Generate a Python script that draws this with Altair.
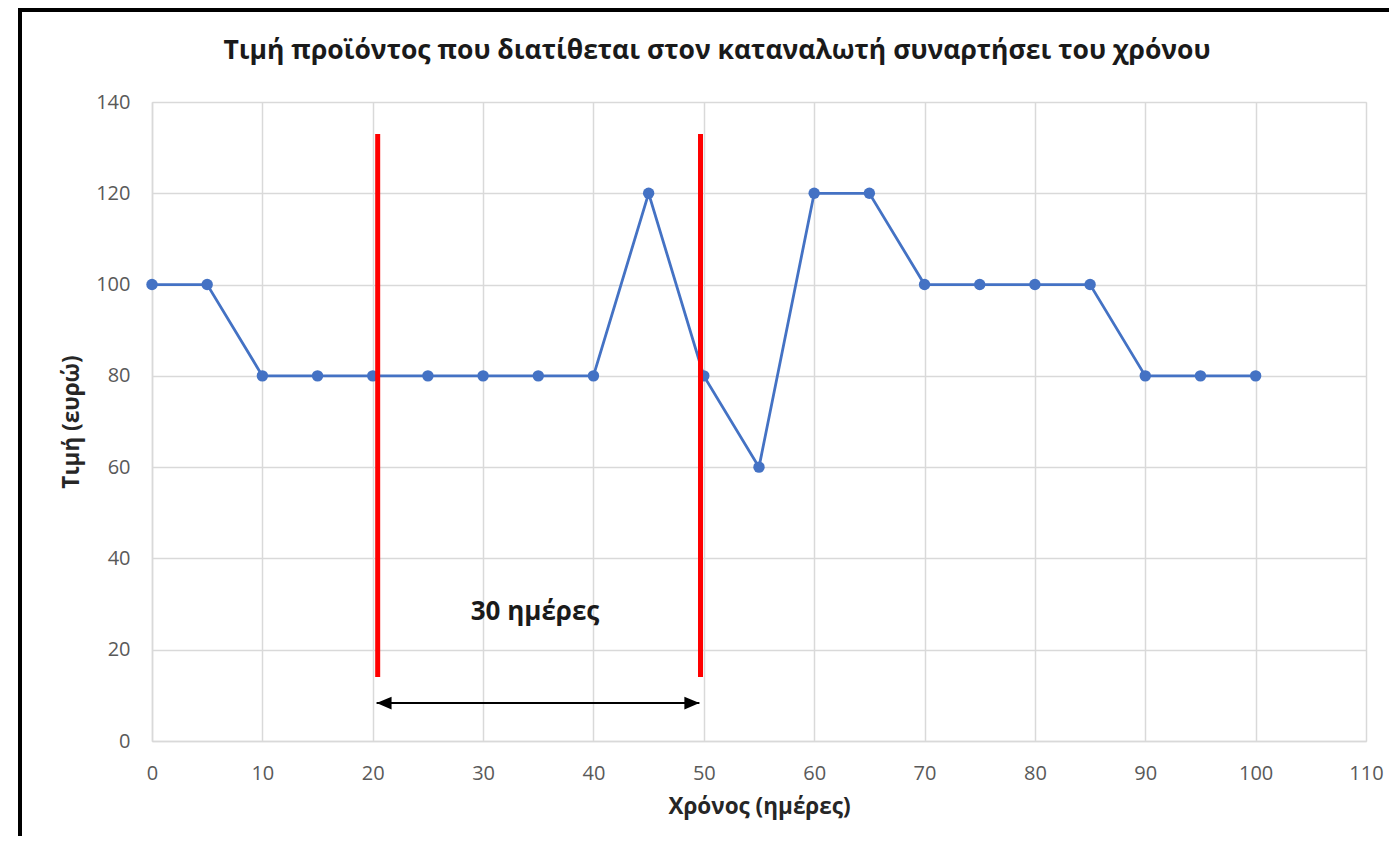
import altair as alt
import pandas as pd

# ---- data ----
days = [0, 5, 10, 15, 20, 25, 30, 35, 40, 45, 50, 55, 60, 65, 70, 75, 80, 85, 90, 95, 100]
price = [100, 100, 80, 80, 80, 80, 80, 80, 80, 120, 80, 60, 120, 120, 100, 100, 100, 100, 80, 80, 80]

marker_x = [20.45, 49.7]          # red vertical markers
marker_y_low = [14, 14]
marker_y_high = [133, 133]

arrow_start = [20.35]
arrow_end = [49.6]
arrow_level = [8.3]

label_text = ["30 ημέρες"]
label_x = [34.7]
label_y = [28.3]

x_ticks = list(range(0, 111, 10))
y_ticks = list(range(0, 141, 20))

title_text = ["Τιμή προϊόντος που διατίθεται στον καταναλωτή συναρτήσει του χρόνου"]
x_title = "Χρόνος (ημέρες)"
y_title = "Τιμή (ευρώ)"

FONT = "Open Sans"
BLUE = "#4472C4"

series = pd.DataFrame({"day": days, "price": price})
markers = pd.DataFrame({"x": marker_x, "y": marker_y_low, "y2": marker_y_high})
arrow = pd.DataFrame({"x": arrow_start, "x2": arrow_end, "y": arrow_level})
heads = pd.DataFrame({"x": arrow_start + arrow_end, "y": arrow_level * 2,
                      "side": ["left", "right"]})
label = pd.DataFrame({"x": label_x, "y": label_y, "t": label_text})
title_df = pd.DataFrame({"t": title_text})

xscale = alt.Scale(domain=[0, 110], nice=False, zero=False)
yscale = alt.Scale(domain=[0, 140], nice=False)

xaxis = alt.Axis(values=x_ticks, title=x_title, labelFontSize=20, labelColor="#595959",
                 labelFont=FONT, labelPadding=22, ticks=False, domainColor="#D9D9D9",
                 domainWidth=1.5, gridColor="#D9D9D9", gridWidth=1.5, titleFont=FONT,
                 titleFontSize=22.5, titleFontWeight="bold", titleColor="#262626",
                 titlePadding=12, labelFlush=False)
yaxis = alt.Axis(values=y_ticks, title=y_title, labelFontSize=20, labelColor="#595959",
                 labelFont=FONT, labelPadding=22, ticks=False, domainColor="#D9D9D9",
                 domainWidth=1.5, gridColor="#D9D9D9", gridWidth=1.5, titleFont=FONT,
                 titleFontSize=22.5, titleFontWeight="bold", titleColor="#262626",
                 titlePadding=12, labelFlush=False)

line = alt.Chart(series).mark_line(color=BLUE, strokeWidth=2.8).encode(
    x=alt.X("day:Q", scale=xscale, axis=xaxis),
    y=alt.Y("price:Q", scale=yscale, axis=yaxis),
)
pts = alt.Chart(series).mark_circle(color=BLUE, size=130, opacity=1).encode(
    x=alt.X("day:Q", scale=xscale),
    y=alt.Y("price:Q", scale=yscale),
)
red = alt.Chart(markers).mark_rule(color="#FF0000", strokeWidth=5).encode(
    x=alt.X("x:Q", scale=xscale),
    y=alt.Y("y:Q", scale=yscale),
    y2="y2:Q",
)
arr = alt.Chart(arrow).mark_rule(color="#000000", strokeWidth=2).encode(
    x=alt.X("x:Q", scale=xscale),
    x2="x2:Q",
    y=alt.Y("y:Q", scale=yscale),
)
left_head = alt.Chart(heads).transform_filter(alt.datum.side == "left").mark_point(
    shape="M0,0L2,-0.85L2,0.85Z", filled=True, color="#000000", opacity=1, size=225
).encode(x=alt.X("x:Q", scale=xscale), y=alt.Y("y:Q", scale=yscale))
right_head = alt.Chart(heads).transform_filter(alt.datum.side == "right").mark_point(
    shape="M0,0L-2,-0.85L-2,0.85Z", filled=True, color="#000000", opacity=1, size=225
).encode(x=alt.X("x:Q", scale=xscale), y=alt.Y("y:Q", scale=yscale))
txt = alt.Chart(label).mark_text(font=FONT, fontSize=26, fontWeight="bold",
                                 color="#1a1a1a", baseline="middle", align="center").encode(
    x=alt.X("x:Q", scale=xscale), y=alt.Y("y:Q", scale=yscale), text="t:N")

# chart title (drawn as text so the frame decoration does not push it away)
title = alt.Chart(title_df).mark_text(font=FONT, fontSize=26.5, fontWeight="bold",
                                      color="#1a1a1a", baseline="alphabetic", align="center").encode(
    x=alt.value(565), y=alt.value(-43), text="t:N")

# outer frame of the picture (decoration)
frame_left = alt.Chart(series).mark_rule(color="#000000", strokeWidth=4).encode(
    x=alt.value(-132), y=alt.value(-94), y2=alt.value(760))
frame_top = alt.Chart(series).mark_rule(color="#000000", strokeWidth=4).encode(
    x=alt.value(-134), x2=alt.value(1260), y=alt.value(-92))

chart = alt.layer(line, pts, red, arr, left_head, right_head, txt, title,
                  frame_left, frame_top).properties(
    width=1214, height=639,
    autosize=alt.AutoSizeParams(type="none"),
    padding={"left": 144, "top": 94, "right": 23, "bottom": 95},
).configure_view(stroke=None).configure(background="white")

chart.save("out.html", embed_options={"renderer": "svg", "actions": False})
